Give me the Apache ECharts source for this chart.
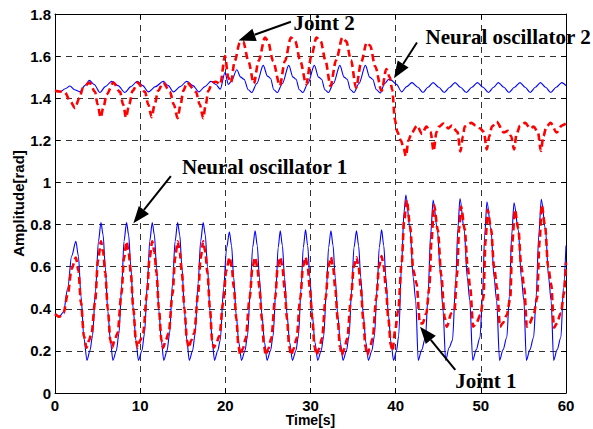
<!DOCTYPE html>
<html><head><meta charset="utf-8">
<script src="https://cdn.jsdelivr.net/npm/echarts@6/dist/echarts.min.js"></script>
<style>html,body{margin:0;padding:0;background:#fff}#c{width:593px;height:429px}</style>
</head><body><div id="c"></div>
<script>
// ---- axis ticks ----
const xTicks = [0, 10, 20, 30, 40, 50, 60];
const yTicks = [0, 0.2, 0.4, 0.6, 0.8, 1, 1.2, 1.4, 1.6, 1.8];

// ---- Neural oscillator 1 (lower, blue solid) [time s, rad] ----
const osc1 = [
[0,0.375],[0.5,0.362],[1.0,0.385],[1.5,0.5],[1.95,0.65],[2.45,0.72],[2.75,0.65],[3.05,0.46],[3.4,0.26],[3.75,0.155],[4.1,0.2],[4.4,0.27],[4.75,0.48],[5.1,0.72],
[5.4,0.81],[5.65,0.75],[5.9,0.6],[6.2,0.39],[6.5,0.25],[6.8,0.155],[7.2,0.2],[7.5,0.28],[7.85,0.52],[8.1,0.72],
[8.4,0.81],[8.65,0.75],[8.9,0.6],[9.2,0.39],[9.5,0.25],[9.8,0.155],[10.2,0.2],[10.5,0.28],[10.85,0.52],[11.12,0.72],
[11.42,0.81],[11.67,0.75],[11.92,0.6],[12.2,0.39],[12.48,0.25],[12.77,0.155],[13.15,0.2],[13.45,0.28],[13.8,0.52],[14.1,0.72],
[14.4,0.81],[14.65,0.75],[14.9,0.6],[15.2,0.39],[15.48,0.25],[15.77,0.155],[16.15,0.2],[16.45,0.28],[16.8,0.52],[17.1,0.72],
[17.4,0.81],[17.65,0.75],[17.9,0.6],[18.2,0.39],[18.45,0.25],[18.73,0.155],[19.1,0.2],[19.4,0.25],[19.8,0.5],[20.15,0.69],
[20.48,0.765],[20.73,0.7],[20.98,0.55],[21.28,0.37],[21.58,0.24],[21.9,0.155],[22.3,0.2],[22.6,0.27],[22.95,0.5],[23.2,0.69],
[23.5,0.77],[23.75,0.7],[24.0,0.55],[24.3,0.37],[24.6,0.24],[24.9,0.155],[25.3,0.2],[25.6,0.27],[25.95,0.5],[26.2,0.69],
[26.45,0.77],[26.7,0.7],[26.95,0.55],[27.25,0.37],[27.55,0.24],[27.88,0.155],[28.28,0.2],[28.58,0.27],[28.9,0.5],[29.15,0.69],
[29.42,0.775],[29.67,0.7],[29.92,0.55],[30.22,0.37],[30.52,0.24],[30.85,0.155],[31.25,0.2],[31.55,0.27],[31.88,0.5],[32.12,0.69],
[32.4,0.77],[32.65,0.7],[32.9,0.55],[33.2,0.37],[33.5,0.24],[33.82,0.155],[34.22,0.2],[34.52,0.27],[34.85,0.5],[35.1,0.69],
[35.4,0.77],[35.65,0.7],[35.9,0.55],[36.2,0.37],[36.5,0.24],[36.8,0.155],[37.2,0.2],[37.5,0.27],[37.83,0.5],[38.07,0.69],
[38.35,0.775],[38.6,0.7],[38.85,0.55],[39.15,0.37],[39.45,0.24],[39.75,0.155],[40.1,0.2],[40.35,0.27],[40.7,0.616],[40.98,0.86],
[41.2,0.94],[41.7,0.775],[42.05,0.55],[42.35,0.44],[42.65,0.155],[43.05,0.205],[43.5,0.265],[43.8,0.46],[44.1,0.75],
[44.4,0.916],[44.9,0.775],[45.25,0.57],[45.55,0.4],[45.87,0.155],[46.27,0.215],[46.67,0.25],[47.05,0.53],[47.3,0.78],
[47.55,0.924],[48.05,0.775],[48.4,0.55],[48.7,0.44],[49.05,0.155],[49.45,0.205],[49.9,0.265],[50.2,0.46],[50.45,0.75],
[50.72,0.908],[51.2,0.775],[51.55,0.55],[51.85,0.44],[52.2,0.155],[52.6,0.205],[53.05,0.265],[53.35,0.46],[53.62,0.75],
[53.9,0.903],[54.4,0.775],[54.75,0.55],[55.05,0.44],[55.35,0.155],[55.75,0.205],[56.2,0.265],[56.5,0.46],[56.8,0.75],
[57.1,0.92],[57.6,0.775],[57.95,0.55],[58.25,0.44],[58.55,0.155],[58.95,0.205],[59.4,0.265],[59.7,0.5],[60,0.7]
];

// ---- Joint 1 (lower, red dashed) ----
const joint1 = [
[0,0.375],[0.5,0.362],[1.0,0.38],[1.5,0.47],[1.95,0.59],[2.45,0.643],[2.75,0.58],[3.05,0.43],[3.4,0.27],[3.7,0.215],[4.0,0.25],[4.3,0.285],[4.7,0.43],[5.05,0.63],
[5.4,0.72],[5.65,0.67],[5.9,0.57],[6.2,0.4],[6.5,0.25],[6.7,0.215],[7.0,0.25],[7.35,0.285],[7.8,0.47],[8.1,0.64],
[8.4,0.72],[8.65,0.67],[8.9,0.57],[9.2,0.4],[9.5,0.25],[9.7,0.215],[10.0,0.25],[10.35,0.285],[10.8,0.47],[11.1,0.64],
[11.42,0.72],[11.67,0.67],[11.92,0.57],[12.2,0.4],[12.5,0.25],[12.7,0.215],[13.0,0.25],[13.35,0.285],[13.8,0.47],[14.1,0.64],
[14.4,0.72],[14.65,0.67],[14.9,0.57],[15.2,0.4],[15.5,0.25],[15.7,0.215],[16.0,0.25],[16.35,0.285],[16.8,0.47],[17.1,0.64],
[17.4,0.72],[17.65,0.67],[17.9,0.57],[18.2,0.4],[18.45,0.25],[18.65,0.215],[18.95,0.24],[19.3,0.27],[19.75,0.43],[20.1,0.58],
[20.5,0.645],[20.75,0.6],[21.0,0.5],[21.3,0.35],[21.55,0.22],[21.75,0.18],[22.05,0.21],[22.4,0.26],[22.85,0.45],[23.2,0.6],
[23.5,0.645],[23.75,0.6],[24.0,0.5],[24.3,0.35],[24.55,0.22],[24.75,0.18],[25.05,0.21],[25.4,0.26],[25.85,0.45],[26.15,0.6],
[26.45,0.645],[26.7,0.6],[26.95,0.5],[27.25,0.35],[27.5,0.22],[27.72,0.18],[28.02,0.21],[28.37,0.26],[28.8,0.45],[29.12,0.6],
[29.42,0.645],[29.67,0.6],[29.92,0.5],[30.22,0.35],[30.47,0.22],[30.7,0.18],[31.0,0.21],[31.35,0.26],[31.78,0.45],[32.1,0.6],
[32.4,0.645],[32.65,0.6],[32.9,0.5],[33.2,0.35],[33.45,0.22],[33.67,0.18],[33.97,0.21],[34.32,0.26],[34.75,0.45],[35.08,0.6],
[35.4,0.645],[35.65,0.6],[35.9,0.5],[36.2,0.35],[36.45,0.22],[36.65,0.18],[36.95,0.21],[37.3,0.26],[37.72,0.45],[38.05,0.6],
[38.35,0.65],[38.6,0.6],[38.85,0.5],[39.15,0.35],[39.42,0.23],[39.62,0.2],[39.95,0.3],[40.3,0.394],[40.7,0.616],[41.0,0.82],
[41.3,0.916],[41.7,0.79],[42.07,0.584],[42.45,0.52],[42.85,0.331],[43.15,0.33],[43.6,0.378],[43.95,0.5],[44.2,0.72],
[44.5,0.893],[44.95,0.774],[45.35,0.56],[45.75,0.36],[46.0,0.315],[46.55,0.38],[46.9,0.39],[47.2,0.56],[47.45,0.78],
[47.68,0.885],[48.1,0.78],[48.45,0.6],[48.75,0.5],[49.1,0.315],[49.45,0.33],[49.95,0.37],[50.3,0.45],[50.55,0.72],
[50.8,0.87],[51.2,0.78],[51.55,0.6],[51.9,0.5],[52.25,0.315],[52.55,0.33],[53.05,0.37],[53.45,0.45],[53.7,0.72],
[54.0,0.87],[54.4,0.78],[54.75,0.6],[55.1,0.5],[55.4,0.315],[55.7,0.33],[56.2,0.37],[56.6,0.45],[56.9,0.72],
[57.15,0.893],[57.55,0.79],[57.9,0.6],[58.25,0.52],[58.6,0.31],[58.9,0.33],[59.4,0.38],[59.75,0.47],[60,0.62]
];

// ---- Neural oscillator 2 (upper, blue solid) ----
const osc2 = [
[0,1.438],[0.6,1.43],[1.2,1.445],[1.76,1.458],[2.3,1.44],[2.94,1.43],[3.5,1.46],[4.03,1.485],[4.6,1.465],[5.28,1.427],[5.9,1.455],[6.65,1.48],[7.4,1.46],[8.2,1.427],[8.9,1.455],[9.66,1.48],[10.3,1.46],[10.96,1.43],[11.8,1.455],[12.7,1.48],[13.3,1.46],[13.9,1.43],[14.7,1.455],[15.46,1.48],[16.2,1.46],[16.9,1.43],[17.6,1.455],[18.3,1.48],[18.9,1.465],[19.4,1.443],
[19.96,1.522],[20.35,1.466],[20.7,1.48],[21.35,1.535],[21.8,1.5],[22.2,1.49],[22.7,1.44],[23.1,1.427],[23.7,1.47],[24.45,1.556],[24.95,1.505],[25.3,1.495],[25.7,1.44],[26.1,1.427],[26.7,1.47],[27.45,1.556],[27.95,1.5],[28.3,1.49],[28.7,1.44],[29.1,1.427],[29.7,1.47],[30.45,1.556],[30.95,1.5],[31.3,1.49],[31.7,1.44],[32.1,1.427],[32.7,1.47],[33.45,1.556],[33.95,1.5],[34.3,1.49],[34.7,1.44],[35.1,1.427],[35.7,1.47],[36.45,1.556],[36.95,1.5],[37.3,1.49],[37.75,1.44],[38.2,1.425],[38.7,1.47],[39.2,1.49],[39.5,1.485],
[40.1,1.466],[40.7,1.43],[41.3,1.455],[41.9,1.474],[42.6,1.452],[43.2,1.427],[43.8,1.452],[44.4,1.474],[45.05,1.452],[45.7,1.427],[46.35,1.452],[46.97,1.474],[47.6,1.452],[48.3,1.427],[48.95,1.452],[49.6,1.474],[50.25,1.452],[50.9,1.427],[51.5,1.452],[52.05,1.474],[52.7,1.452],[53.3,1.427],[53.95,1.452],[54.6,1.474],[55.2,1.452],[55.8,1.427],[56.4,1.452],[57.0,1.474],[57.6,1.452],[58.2,1.427],[58.85,1.452],[59.5,1.474],[60,1.46]
];

// ---- Joint 2 (upper, red dashed) ----
const joint2 = [
[0,1.435],[0.6,1.432],[1.17,1.427],[1.8,1.385],[2.35,1.353],[2.85,1.4],[3.3,1.45],[4.05,1.474],[4.7,1.43],[5.0,1.37],[5.36,1.308],[5.7,1.36],[6.07,1.419],[6.85,1.474],[7.63,1.43],[8.0,1.37],[8.34,1.308],[8.7,1.37],[9.12,1.435],[9.7,1.474],[10.57,1.43],[10.95,1.37],[11.35,1.31],[11.7,1.37],[12.1,1.435],[12.7,1.474],[13.5,1.43],[13.95,1.37],[14.4,1.305],[14.75,1.37],[15.06,1.435],[15.5,1.474],[16.55,1.43],[17.0,1.37],[17.4,1.305],[17.7,1.37],[18.0,1.435],[18.5,1.476],[18.9,1.478],[19.4,1.466],
[19.96,1.6],[20.35,1.498],[20.66,1.474],[21.1,1.577],[21.7,1.664],[22.1,1.669],[22.7,1.577],[23.35,1.47],[23.9,1.577],[24.66,1.688],[25.0,1.672],[25.6,1.577],[26.4,1.46],[27.0,1.577],[27.7,1.688],[28.2,1.672],[28.8,1.577],[29.5,1.466],[30.1,1.6],[30.7,1.688],[31.2,1.67],[31.75,1.58],[32.35,1.458],[33.0,1.58],[33.75,1.688],[34.2,1.67],[34.75,1.58],[35.35,1.45],[35.95,1.57],[36.6,1.664],[37.0,1.65],[37.6,1.55],[38.35,1.435],[38.9,1.538],[39.3,1.5],[39.6,1.44],
[39.9,1.3],[40.2,1.24],[40.6,1.2],[40.9,1.17],[41.2,1.125],[41.5,1.2],[41.9,1.237],[42.5,1.27],[43.1,1.23],[43.6,1.265],[44.1,1.24],[44.45,1.15],[44.8,1.24],[45.1,1.265],[45.6,1.28],[46.2,1.257],[46.6,1.27],[47.25,1.24],[47.6,1.147],[47.9,1.22],[48.1,1.265],[48.9,1.283],[49.4,1.27],[49.9,1.257],[50.35,1.24],[50.7,1.157],[51.0,1.22],[51.3,1.265],[51.85,1.288],[52.7,1.237],[53.2,1.245],[53.55,1.22],[53.9,1.157],[54.2,1.23],[54.6,1.27],[55.2,1.283],[55.8,1.257],[56.2,1.265],[56.7,1.24],[57.05,1.15],[57.35,1.22],[57.7,1.265],[58.2,1.283],[58.9,1.237],[59.5,1.27],[60,1.28]
];

// ---- annotations (data coordinates) ----
const annLabels = ['Joint 2', 'Neural oscillator 2', 'Neural oscillator 1', 'Joint 1'];
const annTextAt = [[31.6, 1.757], [53.2, 1.69], [24.6, 1.073], [50.6, 0.057]];
const annFrom   = [[27.7, 1.763], [42.5, 1.665], [13.6, 1.03], [47.0, 0.11]];
const annTo     = [[21.55, 1.674], [39.8, 1.495], [9.2, 0.806], [42.86, 0.315]];

const chart = echarts.init(document.getElementById('c'), null, {renderer: 'svg'});
const tickFont = {color: '#000', fontWeight: 'bold', fontSize: 15, lineHeight: 14, fontFamily: '"Liberation Sans", Arial, sans-serif'};
const gridDash = {type: [6, 5], color: '#333', width: 1};

const option = {
  animation: false,
  backgroundColor: '#fff',
  grid: {left: 55, right: 27, top: 14, bottom: 36, containLabel: false, outerBoundsMode: 'none'},
  xAxis: [
    {type: 'value', min: xTicks[0], max: xTicks[xTicks.length - 1], interval: 10, position: 'bottom',
     axisLine: {show: true, onZero: false, lineStyle: {color: '#000', width: 1}},
     axisTick: {show: true, inside: true, length: 5, lineStyle: {color: '#000'}},
     axisLabel: Object.assign({margin: 5}, tickFont),
     splitLine: {show: true, lineStyle: gridDash},
     name: 'Time[s]', nameLocation: 'middle', nameGap: 20, nameMoveOverlap: false,
     nameTextStyle: Object.assign({}, tickFont, {fontSize: 14})},
    {type: 'value', min: xTicks[0], max: xTicks[xTicks.length - 1], interval: 10, position: 'top',
     axisLine: {show: true, onZero: false, lineStyle: {color: '#000', width: 1}},
     axisTick: {show: true, inside: true, length: 5, lineStyle: {color: '#000'}},
     axisLabel: {show: false}, splitLine: {show: false}}
  ],
  yAxis: [
    {type: 'value', min: yTicks[0], max: yTicks[yTicks.length - 1], interval: 0.2, position: 'left',
     axisLine: {show: true, onZero: false, lineStyle: {color: '#000', width: 1}},
     axisTick: {show: true, inside: true, length: 5, lineStyle: {color: '#000'}},
     axisLabel: Object.assign({margin: 4}, tickFont),
     splitLine: {show: true, lineStyle: gridDash},
     name: 'Amplitude[rad]', nameLocation: 'middle', nameGap: 30, nameRotate: 90, nameMoveOverlap: false,
     nameTextStyle: Object.assign({}, tickFont)},
    {type: 'value', min: yTicks[0], max: yTicks[yTicks.length - 1], interval: 0.2, position: 'right',
     axisLine: {show: true, onZero: false, lineStyle: {color: '#000', width: 1}},
     axisTick: {show: true, inside: true, length: 5, lineStyle: {color: '#000'}},
     axisLabel: {show: false}, splitLine: {show: false}}
  ],
  series: [
    {name: 'Neural oscillator 1', type: 'line', data: osc1, symbol: 'none', smooth: 0.3, smoothMonotone: 'x',
     lineStyle: {color: '#0000ff', width: 1.1}, silent: true, z: 2},
    {name: 'Neural oscillator 2', type: 'line', data: osc2, symbol: 'none', smooth: 0.3, smoothMonotone: 'x',
     lineStyle: {color: '#0000ff', width: 1.1}, silent: true, z: 2},
    {name: 'Joint 1', type: 'line', data: joint1, symbol: 'none', smooth: 0.3, smoothMonotone: 'x',
     lineStyle: {color: '#ff0000', width: 2.6, type: [7, 4]}, silent: true, z: 3},
    {name: 'Joint 2', type: 'line', data: joint2, symbol: 'none', smooth: 0.3, smoothMonotone: 'x',
     lineStyle: {color: '#ff0000', width: 2.6, type: [7, 4]}, silent: true, z: 3}
  ]
};
chart.setOption(option);

// annotations: text + arrow, positioned from data coordinates
const elements = [];
for (let i = 0; i < annLabels.length; i++) {
  const t = chart.convertToPixel({gridIndex: 0}, annTextAt[i]);
  const p1 = chart.convertToPixel({gridIndex: 0}, annFrom[i]);
  const p2 = chart.convertToPixel({gridIndex: 0}, annTo[i]);
  const dx = p2[0] - p1[0], dy = p2[1] - p1[1];
  const len = Math.sqrt(dx * dx + dy * dy);
  const ux = dx / len, uy = dy / len;
  const L = 17, W = 13;
  const bx = p2[0] - ux * L, by = p2[1] - uy * L;
  const nx = -uy, ny = ux;
  elements.push({type: 'line', z: 100, shape: {x1: p1[0], y1: p1[1], x2: bx, y2: by},
    style: {stroke: '#000', lineWidth: 2}});
  elements.push({type: 'polygon', z: 100, shape: {points: [[p2[0], p2[1]], [bx + nx * W / 2, by + ny * W / 2], [bx - nx * W / 2, by - ny * W / 2]]},
    style: {fill: '#000'}});
  elements.push({type: 'text', z: 100, x: t[0], y: t[1],
    style: {text: annLabels[i], fill: '#000', font: 'bold 21px "Liberation Serif", "Times New Roman", serif',
      align: 'center', verticalAlign: 'middle', textAlign: 'center', textVerticalAlign: 'middle'}});
}
chart.setOption({graphic: {elements: elements}});
</script>
</body></html>
